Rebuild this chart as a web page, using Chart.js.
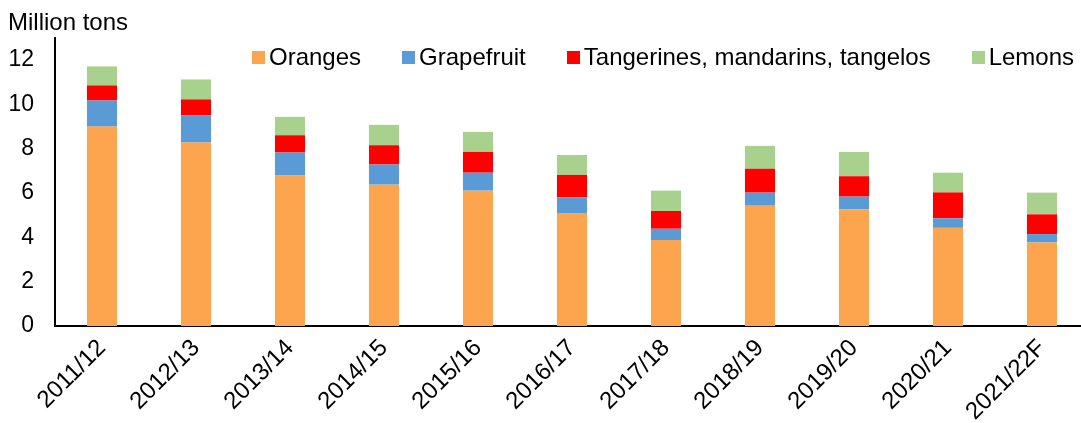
<!DOCTYPE html>
<html>
<head>
<meta charset="utf-8">
<script src="https://cdn.jsdelivr.net/npm/chart.js@4.4.1/dist/chart.umd.min.js"></script>
<style>
  html, body { margin: 0; padding: 0; background: #fff; overflow: hidden; }
  #wrap { position: relative; width: 1081px; height: 423px; overflow: hidden; }
  #unit { position: absolute; left: 8px; top: 8px; font: 24px "Liberation Sans", Arial, sans-serif; color: #000; }
  #legend { position: absolute; left: 252px; top: 43px; display: flex; font: 24px "Liberation Sans", Arial, sans-serif; color: #000; white-space: nowrap; }
  .item { display: flex; align-items: center; margin-right: 41px; }
  .box { width: 13px; height: 13px; margin-right: 4px; }
</style>
</head>
<body>
<div id="wrap">
  <canvas id="chart" width="1089" height="423"></canvas>
  <div id="unit">Million tons</div>
  <div id="legend"></div>
</div>
<script>
// Data (million tons)
const seasons = ['2011/12', '2012/13', '2013/14', '2014/15', '2015/16', '2016/17',
                 '2017/18', '2018/19', '2019/20', '2020/21', '2021/22F'];
const oranges    = [9.00, 8.28, 6.79, 6.38, 6.11, 5.10, 3.88, 5.43, 5.26, 4.43, 3.77];
const grapefruit = [1.18, 1.22, 1.04, 0.91, 0.81, 0.71, 0.51, 0.59, 0.58, 0.43, 0.38];
const tangerines = [0.68, 0.73, 0.78, 0.87, 0.94, 1.01, 0.80, 1.08, 0.92, 1.17, 0.89];
const lemons     = [0.86, 0.90, 0.83, 0.92, 0.90, 0.90, 0.92, 1.03, 1.10, 0.89, 0.98];
const yTicks = [0, 2, 4, 6, 8, 10, 12];

const FONT = '"Liberation Sans", Arial, sans-serif';

const series = [
    { label: 'Oranges', data: oranges, color: '#FCA54E' },
    { label: 'Grapefruit', data: grapefruit, color: '#5B9BD5' },
    { label: 'Tangerines, mandarins, tangelos', data: tangerines, color: '#FF0000' },
    { label: 'Lemons', data: lemons, color: '#A9D18E' }
];

// Legend (HTML, sits inside plot area like the original)
const legendEl = document.getElementById('legend');
series.forEach(s => {
    const item = document.createElement('div');
    item.className = 'item';
    const box = document.createElement('span');
    box.className = 'box';
    box.style.background = s.color;
    const txt = document.createElement('span');
    txt.textContent = s.label;
    item.appendChild(box);
    item.appendChild(txt);
    legendEl.appendChild(item);
});

const ctx = document.getElementById('chart').getContext('2d');
new Chart(ctx, {
    type: 'bar',
    data: {
        labels: seasons,
        datasets: series.map(s => ({
            label: s.label,
            data: s.data,
            backgroundColor: s.color,
            borderWidth: 0,
            categoryPercentage: 1,
            barPercentage: 0.32
        }))
    },
    options: {
        responsive: false,
        animation: false,
        layout: { padding: { top: 38, right: 0, left: 0, bottom: 0 } },
        plugins: {
            legend: { display: false },
            tooltip: { enabled: false }
        },
        scales: {
            x: {
                stacked: true,
                grid: { display: false, drawTicks: false },
                border: { display: true, color: '#000', width: 2 },
                ticks: {
                    color: '#000',
                    font: { family: FONT, size: 24 },
                    minRotation: 45,
                    maxRotation: 45,
                    padding: 8
                },
                afterFit: (scale) => { scale.height = 97; }
            },
            y: {
                stacked: true,
                min: 0,
                max: 13,
                grid: { display: false, drawTicks: false },
                border: { display: true, color: '#000', width: 2 },
                ticks: {
                    color: '#000',
                    font: { family: FONT, size: 23 },
                    padding: 21
                },
                afterBuildTicks: (axis) => {
                    axis.ticks = yTicks.map(v => ({ value: v }));
                },
                afterFit: (scale) => { scale.width = 55; }
            }
        }
    }
});
</script>
</body>
</html>
